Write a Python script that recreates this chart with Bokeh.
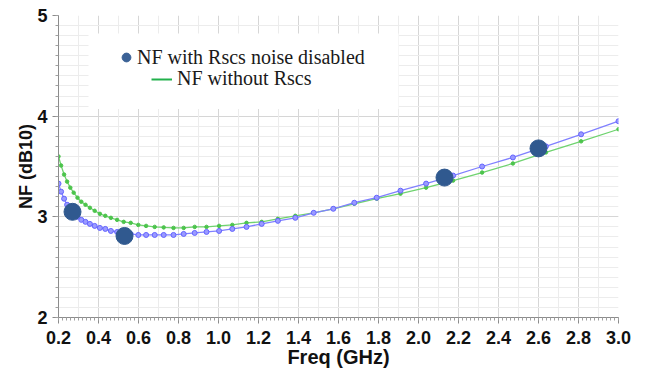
from bokeh.plotting import figure
from bokeh.models import (Range1d, SingleIntervalTicker, FixedTicker, Grid, Legend,
                          LegendItem, BoxAnnotation, PrintfTickFormatter)
from bokeh.embed import file_html
from bokeh.resources import INLINE

# ---- data ----
freq = [0.200, 0.213, 0.228, 0.243, 0.259, 0.276, 0.295, 0.314, 0.335, 0.357,
        0.381, 0.407, 0.434, 0.462, 0.493, 0.526, 0.561, 0.599, 0.638, 0.681,
        0.726, 0.775, 0.826, 0.881, 0.940, 1.003, 1.069, 1.140, 1.216, 1.297,
        1.384, 1.476, 1.574, 1.679, 1.791, 1.910, 2.038, 2.173, 2.318, 2.472,
        2.637, 2.813, 3.000]
nf_rscs_noise_off = [3.33, 3.25, 3.18, 3.12, 3.07, 3.03, 3.00, 2.97, 2.95, 2.93,
                     2.91, 2.89, 2.88, 2.86, 2.85, 2.84, 2.83, 2.82, 2.82, 2.82,
                     2.82, 2.82, 2.83, 2.84, 2.85, 2.86, 2.88, 2.90, 2.93, 2.96,
                     2.99, 3.04, 3.08, 3.14, 3.19, 3.26, 3.33, 3.41, 3.50, 3.59,
                     3.70, 3.82, 3.95]
nf_without_rscs = [3.60, 3.51, 3.42, 3.35, 3.29, 3.24, 3.19, 3.15, 3.12, 3.09,
                   3.06, 3.03, 3.01, 2.99, 2.97, 2.95, 2.94, 2.92, 2.91, 2.90,
                   2.895, 2.89, 2.89, 2.90, 2.90, 2.91, 2.92, 2.94, 2.95, 2.98,
                   3.01, 3.04, 3.08, 3.13, 3.18, 3.23, 3.29, 3.36, 3.44, 3.53,
                   3.64, 3.75, 3.87]
marker_freq = [0.27, 0.53, 2.13, 2.60]
marker_nf = [3.05, 2.81, 3.39, 3.68]
legend_labels = ["NF with Rscs noise disabled", "NF without Rscs"]

SANS = "Liberation Sans"
SERIF = "Liberation Serif"
NAN = [float("nan")]

p = figure(width=645, height=373, output_backend="svg", toolbar_location=None,
           x_range=Range1d(0.2, 3.0), y_range=Range1d(2, 5),
           min_border_left=58, min_border_right=27, min_border_top=15,
           min_border_bottom=56)
p.outline_line_color = None
p.background_fill_color = "white"
p.border_fill_color = "white"

# ticks / grids
p.xaxis.ticker = SingleIntervalTicker(interval=0.2, num_minor_ticks=10)
p.xaxis.formatter = PrintfTickFormatter(format="%.1f")
p.yaxis.ticker = SingleIntervalTicker(interval=1, num_minor_ticks=10)
p.xgrid.ticker = SingleIntervalTicker(interval=0.2)
p.xgrid.grid_line_color = "#d6d6d6"
p.ygrid.grid_line_color = "#d6d6d6"
p.ygrid.minor_grid_line_color = "#ececec"
odd_tenths = [round(0.3 + 0.2 * i, 1) for i in range(14)]
p.add_layout(Grid(dimension=0, ticker=FixedTicker(ticks=odd_tenths),
                  grid_line_color="#ececec"))

for ax in (p.xaxis[0], p.yaxis[0]):
    ax.axis_line_color = "#8c8c8c"
    ax.major_tick_line_color = "#8c8c8c"
    ax.minor_tick_line_color = "#a0a0a0"
    ax.major_tick_out = 6
    ax.major_tick_in = 0
    ax.minor_tick_out = 3
    ax.minor_tick_in = 0
    ax.major_label_text_font = SANS
    ax.major_label_text_font_size = "18px"
    ax.major_label_text_font_style = "bold"
    ax.major_label_text_color = "#111111"
    ax.axis_label_text_font = SANS
    ax.axis_label_text_font_style = "bold"
    ax.axis_label_text_color = "#111111"

p.xaxis.axis_label = "Freq (GHz)"
p.xaxis.axis_label_text_font_size = "20px"
p.xaxis.major_label_standoff = 7
p.xaxis.axis_label_standoff = -1
p.yaxis.axis_label = "NF (dB10)"
p.yaxis.axis_label_text_font_size = "18px"
p.yaxis.major_label_standoff = 5
p.yaxis.axis_label_standoff = -2

# white legend background over the grid
p.add_layout(BoxAnnotation(left=0.35, right=1.90, bottom=4.07, top=4.82,
                           fill_color="white", fill_alpha=1.0, line_color=None,
                           level="underlay"))

# series
p.line(freq, nf_without_rscs, line_color="#6fd36f", line_width=1.3)
p.scatter(freq, nf_without_rscs, size=3.5, fill_color="#4cc44c", line_color="#4cc44c")
p.line(freq, nf_rscs_noise_off, line_color="#8080ff", line_width=1.3)
p.scatter(freq, nf_rscs_noise_off, size=5, fill_color="#9a9aff", line_color="#6464ff",
          line_width=1)
p.scatter(marker_freq, marker_nf, size=17, fill_color="#30598f", line_color="#30598f")

# legend-only glyphs (no visible data)
legend_dot = p.scatter(NAN, NAN, size=13, fill_color="#3b6296", line_color="#3b6296")
legend_line = p.line(NAN, NAN, line_color="#22b14c", line_width=2)

leg1 = Legend(items=[LegendItem(label=legend_labels[0], renderers=[legend_dot])],
              location=(57, 248), glyph_width=22, glyph_height=24, label_standoff=-3,
              padding=0, margin=0, border_line_color=None, background_fill_alpha=0,
              label_text_font=SERIF, label_text_font_size="20px",
              label_text_color="#1a1a1a")
leg2 = Legend(items=[LegendItem(label=legend_labels[1], renderers=[legend_line])],
              location=(93, 227), glyph_width=21, glyph_height=20, label_standoff=5,
              padding=0, margin=0, border_line_color=None, background_fill_alpha=0,
              label_text_font=SERIF, label_text_font_size="20px",
              label_text_color="#1a1a1a")
p.add_layout(leg1)
p.add_layout(leg2)

open("out.html", "w").write(file_html(p, INLINE))
